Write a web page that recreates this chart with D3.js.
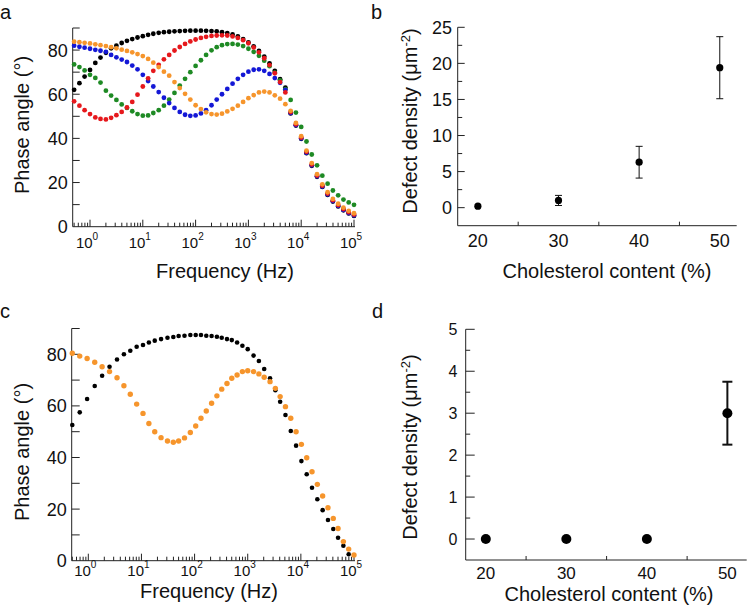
<!DOCTYPE html>
<html>
<head>
<meta charset="utf-8">
<script src="https://cdn.jsdelivr.net/npm/d3@7/dist/d3.min.js"></script>
<style>
  body { margin: 0; background: #fff; }
  svg text { font-family: "Liberation Sans", Arial, sans-serif; fill: #111; }
</style>
</head>
<body>
<svg id="fig" width="747" height="614"></svg>
<script>
// ---- data ----
// panel a: frequency sweep (Hz), phase angle (deg) for five membranes
const freqA = [0.5, 0.63, 0.79, 1, 1.26, 1.58, 2, 2.51, 3.16, 3.98, 5.01, 6.31, 7.94,
  10, 12.6, 15.8, 20, 25.1, 31.6, 39.8, 50.1, 63.1, 79.4,
  100, 126, 158, 200, 251, 316, 398, 501, 631, 794,
  1000, 1259, 1585, 1995, 2512, 3162, 3981, 5012, 6310, 7943,
  10000, 12589, 15849, 19953, 25119, 31623, 39811, 50119, 63096, 79433, 100000];

const phaseBlackA = [62.0, 65.0, 68.0, 71.0, 74.2, 76.6, 78.8, 80.8, 82.0, 83.2, 84.2, 85.0, 85.7,
  86.3, 86.9, 87.4, 87.8, 88.1, 88.3, 88.5, 88.6, 88.7, 88.8,
  88.8, 88.8, 88.7, 88.6, 88.5, 88.1, 87.7, 87.1, 86.2, 85.0,
  83.5, 81.7, 79.6, 77.0, 74.0, 70.6, 66.8, 63.0, 51.3, 45.8,
  39.8, 33.3, 27.6, 22.6, 18.0, 14.4, 11.4, 9.2, 7.4, 6.0, 4.9];

const phaseGreenA = [73.5, 72.3, 70.8, 68.8, 67.4, 65.3, 61.6, 59.4, 57.4, 55.4, 53.8, 52.3, 51.0,
  50.3, 50.4, 51.5, 52.8, 54.8, 57.6, 60.6, 63.9, 67.0, 70.0,
  72.8, 75.4, 77.8, 79.9, 81.3, 82.2, 82.7, 82.8, 82.5, 81.8,
  80.6, 79.2, 77.4, 75.2, 72.7, 69.8, 66.3, 62.3, 57.4, 51.7,
  45.2, 38.6, 32.7, 27.8, 23.1, 19.5, 16.4, 14.2, 12.3, 11.0, 9.9];

const phaseBlueA = [82.0, 81.5, 81.1, 80.6, 80.1, 79.7, 79.2, 77.8, 76.7, 75.7, 74.6, 73.0, 71.3,
  68.8, 66.0, 63.5, 61.0, 58.4, 56.0, 53.8, 52.0, 50.7, 50.2,
  50.4, 51.3, 52.8, 55.0, 57.6, 60.0, 62.4, 64.8, 67.0, 68.8,
  70.2, 71.1, 71.3, 70.6, 69.2, 67.3, 65.2, 62.0, 51.5, 46.0,
  40.0, 33.5, 27.8, 22.8, 18.2, 14.6, 11.6, 9.4, 7.6, 6.2, 5.1];

const phaseRedA = [56.8, 54.8, 52.8, 51.0, 49.5, 48.8, 48.6, 49.3, 50.5, 52.0, 54.0, 56.5, 59.8,
  63.5, 67.2, 70.6, 73.3, 75.8, 77.8, 79.8, 81.4, 82.8, 83.9,
  84.8, 85.5, 86.0, 86.4, 86.6, 86.7, 86.6, 86.2, 85.5, 84.5,
  83.1, 81.2, 79.0, 76.3, 73.2, 69.5, 65.5, 60.8, 51.9, 46.4,
  40.4, 33.9, 28.2, 23.2, 18.6, 15.0, 12.0, 9.8, 8.0, 6.6, 5.5];

const phaseOrangeA = [83.8, 83.6, 83.3, 83.0, 82.6, 82.2, 81.8, 81.3, 80.8, 80.2, 79.6, 79.0, 78.2,
  77.3, 76.0, 74.3, 72.3, 70.2, 68.4, 65.5, 62.8, 60.2, 57.6,
  55.0, 53.3, 51.8, 51.0, 50.8, 51.2, 52.2, 53.4, 54.8, 56.5,
  58.2, 59.6, 60.8, 61.2, 60.8, 59.5, 58.0, 55.5, 52.5, 47.0,
  41.0, 34.5, 28.8, 23.8, 19.2, 15.6, 12.6, 10.4, 8.6, 7.2, 6.1];

// panel c: two membranes
const freqC = [0.5, 0.69, 0.95, 1.32, 1.82, 2.51, 3.47, 4.68, 6.17, 8.13,
  10.7, 13.8, 17.8, 23.4, 30.9, 39.8, 50.1, 64.6, 83.2,
  105, 132, 166, 209, 263, 324, 407, 501, 631, 794,
  1000, 1288, 1622, 2042, 2630, 3311, 4074, 5129, 6457, 8128,
  10233, 12882, 16218, 20417, 25704, 32359, 40738, 50119, 63096, 79433, 100000];

const phaseBlackC = [52.6, 57.5, 62.7, 67.7, 71.7, 75.2, 78.0, 80.0, 81.4, 82.9,
  83.6, 84.6, 85.3, 85.9, 86.4, 86.7, 87.1, 87.2, 87.5,
  87.5, 87.5, 87.2, 87.1, 86.8, 86.4, 85.9, 85.5, 84.6, 83.3,
  82.0, 79.5, 77.4, 74.3, 70.7, 66.1, 61.6, 56.5, 50.3, 44.6,
  38.6, 33.5, 28.3, 23.8, 19.6, 15.8, 12.3, 8.9, 5.8, 2.5, null];

const phaseOrangeC = [80.4, 79.3, 78.4, 76.9, 75.2, 73.3, 70.9, 67.8, 64.5, 60.7,
  57.1, 53.2, 50.0, 47.7, 46.4, 45.9, 46.4, 47.6, 49.7,
  52.2, 55.2, 58.0, 61.0, 63.9, 66.5, 68.7, 70.7, 72.0, 73.3,
  73.6, 73.3, 72.4, 71.1, 69.4, 66.8, 63.6, 59.7, 55.2, 50.0,
  45.1, 39.9, 34.5, 29.6, 25.1, 20.5, 16.4, 12.5, 7.4, 4.5, 2.2];

// panels b and d: defect density vs cholesterol
const cholesterol = [20, 30, 40, 50];
const defectB = [0.2, 1.0, 6.3, 19.4];
const defectErrB = [0.2, 0.7, 2.2, 4.3];
const defectD = [0, 0, 0, 3.0];
const defectErrD = [0, 0, 0, 0.75];

const decadeLabels = ['0', '1', '2', '3', '4', '5'];

// ---- drawing ----
const svg = d3.select('#fig');

let drawLetter = function (txt, x, y) {
  svg.append('text').attr('x', x).attr('y', y)
    .style('font-size', '20px').text(txt);
};

let phasePanel = function (p) {
  let x = d3.scaleLog().domain(p.xDomain).range([p.left, p.right]);
  let y = d3.scaleLinear().domain([0, 90]).range([p.bottom, p.top]);
  let g = svg.append('g');

  // axis lines
  g.append('line').attr('x1', p.left).attr('x2', p.left)
    .attr('y1', p.top).attr('y2', p.bottom).attr('stroke', '#222');
  g.append('line').attr('x1', p.left).attr('x2', p.right + 1)
    .attr('y1', p.bottom).attr('y2', p.bottom).attr('stroke', '#222');

  // y ticks every 10, inward
  d3.range(10, 91, 10).forEach(function (v) {
    g.append('line').attr('x1', p.left).attr('x2', p.left + p.yTick)
      .attr('y1', y(v)).attr('y2', y(v)).attr('stroke', '#222');
  });
  d3.range(0, 81, 20).forEach(function (v) {
    g.append('text').attr('x', p.left - 5).attr('y', y(v)).attr('dy', '0.36em')
      .attr('text-anchor', 'end').style('font-size', '18px').text(v);
  });

  // log x ticks, inward
  for (let d = -1; d <= 5; d++) {
    for (let m = 1; m <= 9; m++) {
      let f = m * Math.pow(10, d);
      if (f < p.xDomain[0] || f > p.xDomain[1]) continue;
      let len = m === 1 ? 7 : 4;
      g.append('line').attr('x1', x(f)).attr('x2', x(f))
        .attr('y1', p.bottom).attr('y2', p.bottom - len).attr('stroke', '#222');
    }
  }
  decadeLabels.forEach(function (e, i) {
    let t = g.append('text').attr('x', x(Math.pow(10, i)) - 3).attr('y', p.xLabelY)
      .attr('text-anchor', 'middle').style('font-size', '15px');
    t.append('tspan').text('10');
    t.append('tspan').attr('dy', -8).style('font-size', '10px').text(e);
  });

  g.append('text').attr('x', p.titleX).attr('y', p.titleY)
    .attr('text-anchor', 'middle').style('font-size', '20px').text('Frequency (Hz)');
  g.append('text')
    .attr('transform', 'translate(' + p.yTitleX + ',' + p.yTitleY + ') rotate(-90)')
    .attr('dy', '0.35em').attr('text-anchor', 'middle')
    .style('font-size', '20px').text('Phase angle (°)');

  p.series.forEach(function (s) {
    let pts = p.freq.map(function (f, i) { return [f, s.vals[i]]; })
      .filter(function (d) { return d[1] !== null; });
    g.append('g').selectAll('circle').data(pts).enter().append('circle')
      .attr('cx', function (d) { return x(d[0]); })
      .attr('cy', function (d) { return y(d[1]); })
      .attr('r', s.r)
      .attr('fill', s.color);
  });
};

let defectPanel = function (p) {
  let x = d3.scaleLinear().domain(p.xDomain).range([p.left, p.right]);
  let y = d3.scaleLinear().domain(p.yDomain).range([p.bottom, p.top]);
  let g = svg.append('g');

  g.append('line').attr('x1', p.left).attr('x2', p.left)
    .attr('y1', p.top).attr('y2', p.bottom).attr('stroke', '#222');
  g.append('line').attr('x1', p.left).attr('x2', p.right)
    .attr('y1', p.bottom).attr('y2', p.bottom).attr('stroke', '#222');

  // y ticks: major labelled, minor halfway
  p.yTicks.forEach(function (v) {
    g.append('line').attr('x1', p.left).attr('x2', p.left + p.majorLen)
      .attr('y1', y(v)).attr('y2', y(v)).attr('stroke', '#222');
    g.append('text').attr('x', p.yLabelX).attr('y', y(v)).attr('dy', '0.36em')
      .attr('text-anchor', 'end').style('font-size', p.yFont).text(v);
  });
  p.yMinor.forEach(function (v) {
    g.append('line').attr('x1', p.left).attr('x2', p.left + 4.5)
      .attr('y1', y(v)).attr('y2', y(v)).attr('stroke', '#222');
  });
  [25, 35, 45].forEach(function (v) {
    g.append('line').attr('x1', x(v)).attr('x2', x(v))
      .attr('y1', p.bottom).attr('y2', p.bottom - 4).attr('stroke', '#222');
  });
  cholesterol.forEach(function (v) {
    g.append('text').attr('x', x(v)).attr('y', p.xLabelY)
      .attr('text-anchor', 'middle').style('font-size', p.xFont).text(v);
  });

  g.append('text').attr('x', p.titleX).attr('y', p.titleY)
    .attr('text-anchor', 'middle').style('font-size', '20px')
    .text('Cholesterol content (%)');
  let yt = g.append('text')
    .attr('transform', 'translate(' + p.yTitleX + ',' + p.yTitleY + ') rotate(-90)')
    .attr('dy', '0.35em').attr('text-anchor', 'middle').style('font-size', '20px');
  yt.append('tspan').text('Defect density (μm');
  yt.append('tspan').attr('dy', -7).style('font-size', '13px').text('-2');
  yt.append('tspan').attr('dy', 7).text(')');

  let rows = cholesterol.map(function (c, i) {
    return { c: c, v: p.vals[i], e: p.errs[i] };
  });
  rows.forEach(function (d) {
    if (d.e > 0.3) {
      g.append('line').attr('x1', x(d.c)).attr('x2', x(d.c))
        .attr('y1', y(d.v - d.e)).attr('y2', y(d.v + d.e))
        .attr('stroke', '#111').attr('stroke-width', p.errW);
      [d.v - d.e, d.v + d.e].forEach(function (v) {
        g.append('line').attr('x1', x(d.c) - p.cap).attr('x2', x(d.c) + p.cap)
          .attr('y1', y(v)).attr('y2', y(v))
          .attr('stroke', '#111').attr('stroke-width', p.errW);
      });
    }
  });
  g.selectAll('circle.pt').data(rows).enter().append('circle')
    .attr('cx', function (d) { return x(d.c); })
    .attr('cy', function (d) { return y(d.v); })
    .attr('r', p.r).attr('fill', '#000');
};

// a
phasePanel({
  left: 72.7, right: 354, top: 28, bottom: 226.7, xDomain: [0.47, 1e5],
  yTick: 7, xLabelY: 248, titleX: 225, titleY: 278, yTitleX: 21.7, yTitleY: 125,
  freq: freqA,
  series: [
    { vals: phaseBlackA, color: '#000000', r: 2.4 },
    { vals: phaseGreenA, color: '#1e8a24', r: 2.4 },
    { vals: phaseBlueA, color: '#1418d6', r: 2.4 },
    { vals: phaseRedA, color: '#e6181c', r: 2.4 },
    { vals: phaseOrangeA, color: '#f6952c', r: 2.4 }
  ]
});

// c
phasePanel({
  left: 71.7, right: 354, top: 328.5, bottom: 560.7, xDomain: [0.487, 1e5],
  yTick: 8, xLabelY: 576, titleX: 209, titleY: 598, yTitleX: 21.7, yTitleY: 452,
  freq: freqC,
  series: [
    { vals: phaseBlackC, color: '#000000', r: 2.3 },
    { vals: phaseOrangeC, color: '#f6952c', r: 2.7 }
  ]
});

// b
defectPanel({
  left: 457.7, right: 736.7, top: 27.3, bottom: 225.7,
  xDomain: [17.5, 52.1], yDomain: [-2.5, 25],
  yTicks: [0, 5, 10, 15, 20, 25], yMinor: [2.5, 7.5, 12.5, 17.5, 22.5],
  majorLen: 7, yLabelX: 452, yFont: '18px', xFont: '18px', xLabelY: 247,
  titleX: 607, titleY: 278, yTitleX: 410, yTitleY: 121,
  vals: defectB, errs: defectErrB, r: 3.6, cap: 3.5, errW: 1
});

// d
defectPanel({
  left: 465.7, right: 746.7, top: 329.3, bottom: 560,
  xDomain: [17.5, 52.4], yDomain: [-0.5, 5],
  yTicks: [0, 1, 2, 3, 4, 5], yMinor: [0.5, 1.5, 2.5, 3.5, 4.5],
  majorLen: 9, yLabelX: 457.5, yFont: '16px', xFont: '17px', xLabelY: 579,
  titleX: 609, titleY: 601, yTitleX: 410, yTitleY: 447,
  vals: defectD, errs: defectErrD, r: 5, cap: 5, errW: 2
});

drawLetter('a', 0, 19);
drawLetter('b', 371, 19);
drawLetter('c', 0, 318);
drawLetter('d', 372, 318);
</script>
</body>
</html>
